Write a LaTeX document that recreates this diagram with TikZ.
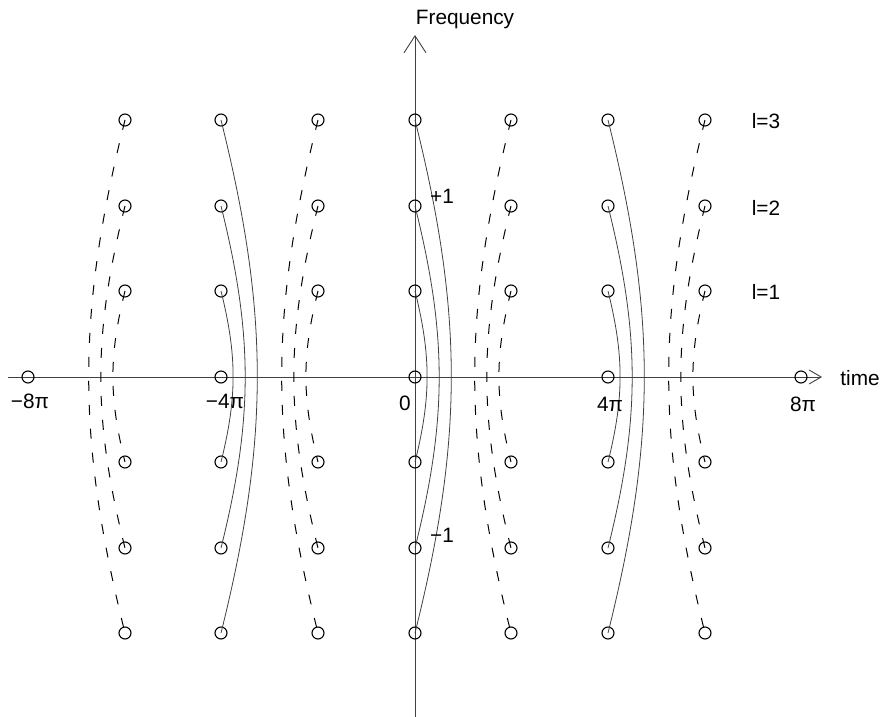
\documentclass[tikz,border=0pt]{standalone}
\usepackage{fontspec}
\setmainfont{Liberation Sans}
\usetikzlibrary{arrows.meta}
\begin{document}
\begin{tikzpicture}[x=0.5pt,y=-0.5pt,
  pt/.style={circle,draw,minimum size=6pt,inner sep=0pt,line width=0.55pt},
  axisline/.style={line width=0.45pt,black!75},
  solidarc/.style={line width=0.4pt,black!75},
  dasharc/.style={line width=0.5pt,dash pattern=on 5pt off 7pt},
  lab/.style={font=\fontsize{10.4}{12}\selectfont,inner sep=0pt}]
\useasboundingbox (0,0) rectangle (880,717);
% axes
\coordinate (xl) at (8,377);
\coordinate (xr) at (822,377);
\coordinate (yb) at (415,717);
\coordinate (yt) at (415,35);
\draw[axisline,-{Straight Barb[length=6pt,width=7pt]}] (xl) -- (xr);
\draw[axisline,-{Straight Barb[length=8.5pt,width=11pt]}] (yb) -- (yt);
% grid of circles
\foreach \x/\c in {125/a,221/b,318/c,415/d,511/e,608/f,705/g}{
  \foreach \y/\r in {120/u3,206/u2,291/u1,462/d1,548/d2,633/d3}{
    \node[pt] (\c-\r) at (\x,\y) {};
  }
}
% circles on the time axis
\node[pt] (m8) at (28,377) {};
\node[pt] (b-0) at (221,377) {};
\node[pt] (d-0) at (415,377) {};
\node[pt] (f-0) at (608,377) {};
\node[pt] (p8) at (801,377) {};
% arcs
\foreach \c in {b,d,f}{
  \foreach \l in {1,2,3}{
    \draw[solidarc] (\c-u\l.center) to[bend left=14] (\c-d\l.center);
  }
}
\foreach \c in {a,c,e,g}{
  \foreach \l in {1,2,3}{
    \draw[dasharc] (\c-u\l.center) to[bend right=14] (\c-d\l.center);
  }
}
% labels
\node[lab] (freq) at (465,20) {Frequency};
\node[lab] (time) at (860,378) {time};
\node[lab] (lm8) at (30,401) {−8π};
\node[lab] (lm4) at (225,401) {−4π};
\node[lab] (l0) at (405,403) {0};
\node[lab] (lp4) at (610,404) {4π};
\node[lab] (lp8) at (803,404) {8π};
\node[lab] (plus1) at (442,196) {+1};
\node[lab] (minus1) at (442,535) {−1};
\node[lab] (l3) at (766,121) {l=3};
\node[lab] (l2) at (766,208) {l=2};
\node[lab] (l1) at (766,292) {l=1};
\end{tikzpicture}
\end{document}
